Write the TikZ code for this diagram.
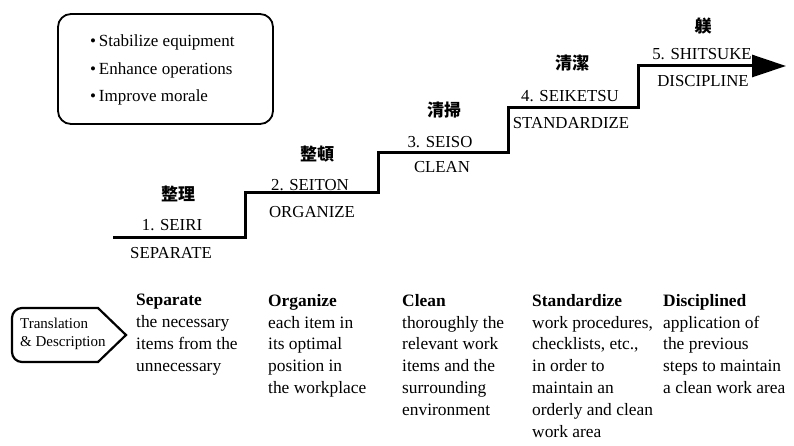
\documentclass[tikz,border=0pt]{standalone}
\usepackage{fontspec}
\setmainfont{Liberation Serif}
\newfontfamily\cjk{Noto Sans CJK JP}
\usetikzlibrary{arrows.meta}
\newcommand{\smallbul}{\textbullet\,}
\tikzset{
  stair/.style={line width=3pt, line join=miter, -{Triangle[length=34pt 0,width=22pt 0]}},
  kanji/.style={font=\cjk\bfseries\fontsize{17}{17}\selectfont, inner sep=0pt, anchor=center},
  steplabel/.style={font=\fontsize{16.8}{16.8}\selectfont, inner sep=0pt, anchor=base},
  desc/.style={font=\fontsize{17.4}{21.8}\selectfont, inner sep=0pt, anchor=north west, align=left},
  benefitbox/.style={draw, line width=1.8pt, rounded corners=13pt},
  tag/.style={draw, line width=2.2pt, line join=miter}
}
\begin{document}
\begin{tikzpicture}[x=1pt,y=-1pt]
\useasboundingbox (0,0) rectangle (794,446);

% benefits box
\draw[benefitbox] (58,14) rectangle (273,124);
\node[desc, font=\fontsize{17}{27.5}\selectfont] (benefits) at (90,35)
  {\smallbul Stabilize equipment\\\smallbul Enhance operations\\\smallbul Improve morale};

% staircase
\coordinate (s0) at (113,237);
\coordinate (s1) at (245,237);
\coordinate (s2) at (245,193);
\coordinate (s3) at (378,193);
\coordinate (s4) at (378,153);
\coordinate (s5) at (508,153);
\coordinate (s6) at (508,108);
\coordinate (s7) at (638,108);
\coordinate (s8) at (638,66);
\coordinate (s9) at (786,66);
\draw[stair] (s0) -- (s1) -- (s2) -- (s3) -- (s4) -- (s5) -- (s6) -- (s7) -- (s8) -- (s9);

% step labels
\node[kanji] (k1) at (178,194) {整理};
\node[steplabel] (n1) at (172,230) {1. SEIRI};
\node[steplabel] (e1) at (171,258) {SEPARATE};

\node[kanji] (k2) at (317,154) {整頓};
\node[steplabel] (n2) at (310,191) {2. SEITON};
\node[steplabel] (e2) at (312,218) {ORGANIZE};

\node[kanji] (k3) at (444,110) {清掃};
\node[steplabel] (n3) at (440,148) {3. SEISO};
\node[steplabel] (e3) at (442,173) {CLEAN};

\node[kanji] (k4) at (572,63) {清潔};
\node[steplabel] (n4) at (570,102) {4. SEIKETSU};
\node[steplabel] (e4) at (571,129) {STANDARDIZE};

\node[kanji] (k5) at (703,26) {躾};
\node[steplabel] (n5) at (702,60) {5. SHITSUKE};
\node[steplabel] (e5) at (703,87) {DISCIPLINE};

% translation tag
\draw[tag] (98,308) -- (22,308) [rounded corners=10pt] -- (12,308) -- (12,362) [sharp corners] -- (22,362) -- (98,362) -- (126,335) -- cycle;
\node[desc, font=\fontsize{15}{18}\selectfont] (tagtext) at (20,317.5) {Translation\\\& Description};

% descriptions
\node[desc] (d1) at (136,294) {\textbf{Separate}\\the necessary\\items from the\\unnecessary};
\node[desc] (d2) at (268,294) {\textbf{Organize}\\each item in\\its optimal\\position in\\the workplace};
\node[desc] (d3) at (402,294) {\textbf{Clean}\\thoroughly the\\relevant work\\items and the\\surrounding\\environment};
\node[desc] (d4) at (532,294) {\textbf{Standardize}\\work procedures,\\checklists, etc.,\\in order to\\maintain an\\orderly and clean\\work area};
\node[desc] (d5) at (663,294) {\textbf{Disciplined}\\application of\\the previous\\steps to maintain\\a clean work area};
\end{tikzpicture}
\end{document}
